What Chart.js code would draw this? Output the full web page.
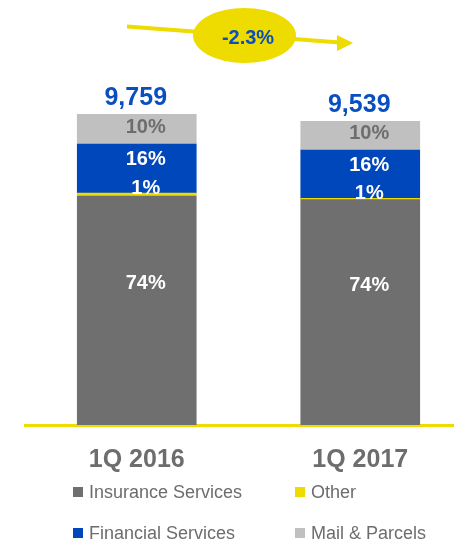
<!DOCTYPE html>
<html>
<head>
<meta charset="utf-8">
<script src="https://cdn.jsdelivr.net/npm/chart.js@4/dist/chart.umd.min.js"></script>
<style>
  html, body { margin: 0; padding: 0; background: #fff; overflow: hidden; width: 454px; height: 541px; }
  #wrap { position: absolute; left: 0; top: 0; width: 472px; height: 541px; }
  .lg { position: absolute; font-family: "Liberation Sans", Arial, sans-serif; font-size: 18px; color: #6d6d6d; white-space: nowrap; line-height: 20px; }
  .lg span.box { display: inline-block; width: 10px; height: 10px; margin-right: 6px; vertical-align: 1px; }
</style>
</head>
<body>
<div id="wrap"><canvas id="c" width="472" height="541"></canvas></div>
<div id="legend"></div>
<script>
// ---- data ----
const categories = ['1Q 2016', '1Q 2017'];
const insuranceServices = [7194, 7080];
const otherValues = [94, 40];
const financialServices = [1533, 1515];
const mailParcels = [938, 904];
const totalLabels = ['9,759', '9,539'];
const insurancePct = ['74%', '74%'];
const otherPct = ['1%', '1%'];
const financialPct = ['16%', '16%'];
const mailPct = ['10%', '10%'];
const changeLabel = '-2.3%';

const FONT = '"Liberation Sans", Arial, sans-serif';
const GRAY = '#6f6f6f';
const YELLOW = '#eedb00';
const BLUE = '#0047bb';
const LIGHT = '#c0c0c0';

const pctLabels = [insurancePct, otherPct, financialPct, mailPct];
const labelColors = ['#ffffff', '#ffffff', '#ffffff', '#6d6d6d'];
// vertical offsets of the segment labels relative to segment center
const labelDy = [-27, 0, -9, -2];

const segLabels = {
  id: 'segLabels',
  afterDatasetsDraw(chart) {
    const ctx = chart.ctx;
    ctx.save();
    ctx.textAlign = 'center';
    ctx.textBaseline = 'middle';
    ctx.font = 'bold 20px ' + FONT;
    chart.data.datasets.forEach((ds, i) => {
      const meta = chart.getDatasetMeta(i);
      meta.data.forEach((el, j) => {
        let y;
        if (i === 1) y = el.y - 5;
        else y = (el.y + el.base) / 2 + labelDy[i];
        ctx.fillStyle = labelColors[i];
        ctx.fillText(pctLabels[i][j], el.x + 9, y);
      });
    });
    // totals
    const top = chart.getDatasetMeta(chart.data.datasets.length - 1);
    ctx.font = 'bold 25px ' + FONT;
    ctx.fillStyle = '#0a4fc0';
    top.data.forEach((el, j) => {
      ctx.fillText(totalLabels[j], el.x - 1, el.y - 16);
    });
    // change arrow + ellipse
    ctx.strokeStyle = YELLOW;
    ctx.fillStyle = YELLOW;
    ctx.lineWidth = 4;
    ctx.beginPath();
    ctx.moveTo(127, 26.5);
    ctx.lineTo(340, 42.5);
    ctx.stroke();
    ctx.beginPath();
    ctx.moveTo(353, 43);
    ctx.lineTo(337, 35);
    ctx.lineTo(337, 51);
    ctx.closePath();
    ctx.fill();
    ctx.beginPath();
    ctx.ellipse(244.5, 35.5, 51.5, 27.5, 0, 0, Math.PI * 2);
    ctx.fill();
    ctx.fillStyle = '#0a4fc0';
    ctx.font = 'bold 20px ' + FONT;
    ctx.fillText(changeLabel, 248, 38);
    ctx.restore();
  }
};

const chart = new Chart(document.getElementById('c'), {
  type: 'bar',
  data: {
    labels: categories,
    datasets: [
      { label: 'Insurance Services', data: insuranceServices, backgroundColor: GRAY },
      { label: 'Other', data: otherValues, backgroundColor: YELLOW },
      { label: 'Financial Services', data: financialServices, backgroundColor: BLUE },
      { label: 'Mail & Parcels', data: mailParcels, backgroundColor: LIGHT }
    ]
  },
  options: {
    responsive: false,
    animation: false,
    layout: { padding: { left: 25, right: 0, top: 43, bottom: 46 } },
    datasets: { bar: { barThickness: 119 } },
    plugins: { legend: { display: false }, tooltip: { enabled: false } },
    scales: {
      x: {
        stacked: true,
        grid: { display: false, drawTicks: false },
        border: { display: true, color: YELLOW, width: 3 },
        ticks: { color: '#6d6d6d', font: { family: FONT, size: 25, weight: 'bold' }, padding: 20 }
      },
      y: {
        stacked: true,
        display: false,
        min: 0,
        max: 12000
      }
    }
  },
  plugins: [segLabels]
});

// legend built from the chart datasets (2x2 grid)
const legendPos = [[73, 482], [295, 482], [73, 523], [295, 523]];
const legendEl = document.getElementById('legend');
const order = [0, 1, 2, 3];
order.forEach((di, k) => {
  const ds = chart.data.datasets[di];
  const d = document.createElement('div');
  d.className = 'lg';
  d.style.left = legendPos[k][0] + 'px';
  d.style.top = legendPos[k][1] + 'px';
  const b = document.createElement('span');
  b.className = 'box';
  b.style.background = ds.backgroundColor;
  d.appendChild(b);
  d.appendChild(document.createTextNode(ds.label));
  legendEl.appendChild(d);
});
</script>
</body>
</html>
